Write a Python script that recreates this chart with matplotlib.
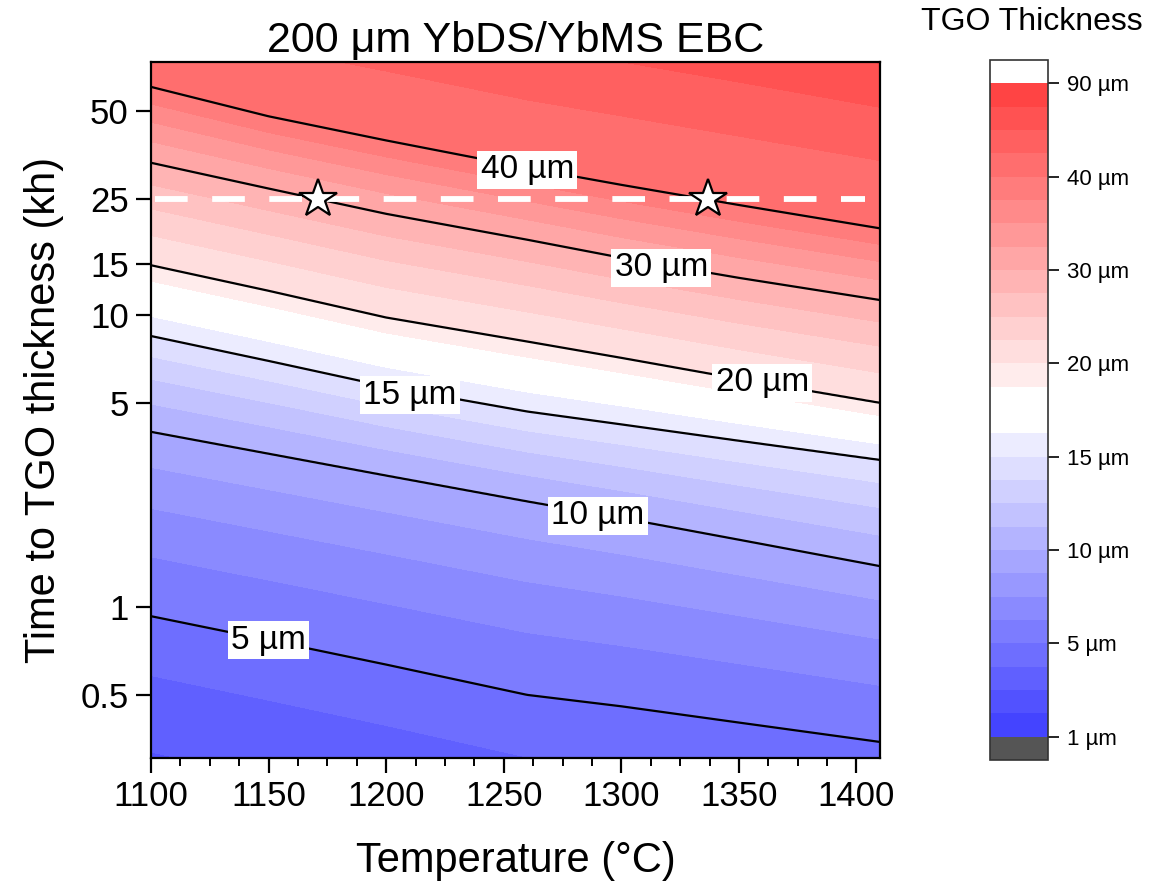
import numpy as np
import matplotlib
matplotlib.use("Agg")
import matplotlib.pyplot as plt
from matplotlib.colors import ListedColormap, BoundaryNorm, to_rgb
from matplotlib.ticker import FixedLocator, FixedFormatter, MultipleLocator, NullLocator

plt.rcParams['font.family'] = ['Liberation Sans', 'DejaVu Sans']

# time (kh) at which the TGO reaches each thickness
temps = [1100, 1150, 1200, 1260, 1300, 1350, 1410]
levels_um = [5, 10, 15, 20, 30, 40]
t_5um = [0.93, 0.77, 0.635, 0.50, 0.457, 0.402, 0.345]
t_10um = [3.98, 3.35, 2.82, 2.30, 2.02, 1.70, 1.38]
t_15um = [8.47, 6.96, 5.69, 4.67, 4.22, 3.71, 3.19]
t_20um = [14.8, 12.1, 9.80, 8.11, 7.13, 6.04, 5.00]
t_30um = [33.2, 27.1, 22.2, 18.1, 15.7, 13.4, 11.25]
t_40um = [60.4, 47.9, 39.6, 31.9, 27.9, 23.8, 19.8]
line_times = [t_5um, t_10um, t_15um, t_20um, t_30um, t_40um]

cbar_ticks = [1, 5, 10, 15, 20, 30, 40, 90]
ytick_vals = [0.5, 1, 5, 10, 15, 25, 50]
ytick_labels = ['0.5', '1', '5', '10', '15', '25', '50']

# 25 kh design life, marked at the two temperatures where the 30/40 um lines cross it
ref_time = 25
star_temps = [1171, 1337]

# ---- thickness field rebuilt from the read contour lines (log-log between lines)
T = np.linspace(1100, 1410, 320)
lt = np.linspace(np.log10(0.28), np.log10(80), 500)
lh_lv = np.log10(levels_um)
Z = np.empty((lt.size, T.size))
for j, temp in enumerate(T):
    lt_lv = np.array([np.interp(temp, temps, np.log10(tk)) for tk in line_times])
    lh = np.interp(lt, lt_lv, lh_lv)
    lo = lt < lt_lv[0]
    hi = lt > lt_lv[-1]
    s0 = (lh_lv[1] - lh_lv[0]) / (lt_lv[1] - lt_lv[0])
    s1 = (lh_lv[-1] - lh_lv[-2]) / (lt_lv[-1] - lt_lv[-2])
    lh[lo] = lh_lv[0] + s0 * (lt[lo] - lt_lv[0])
    lh[hi] = lh_lv[-1] + s1 * (lt[hi] - lt_lv[-1])
    Z[:, j] = 10 ** lh
t_grid = 10 ** lt

# 4 colour bands between each pair of labelled colorbar ticks
bounds = np.concatenate([np.linspace(a, b, 5)[:-1]
                         for a, b in zip(cbar_ticks[:-1], cbar_ticks[1:])] + [[cbar_ticks[-1]]])
nb = len(bounds) - 1              # 28 bands: 13 blue, 2 white, 13 red
blue = np.array(to_rgb('#4444ff'))
red = np.array(to_rgb('#ff4444'))
white = np.ones(3)
band_cols = []
for i in range(nb):
    if i < 13:
        f = i / 12 * 0.9
        band_cols.append(blue + (white - blue) * f)
    elif i < 15:
        band_cols.append(white)
    else:
        f = (nb - 1 - i) / 12 * 0.9
        band_cols.append(red + (white - red) * f)
cmap = ListedColormap(band_cols)
cmap.set_under('#555555')
cmap.set_over('#ffffff')
norm = BoundaryNorm(bounds, cmap.N)

fig = plt.figure(figsize=(11.7, 8.85), dpi=100)
ax = fig.add_axes([151 / 1170, 1 - 758 / 885, 729 / 1170, 696 / 885])
cax = fig.add_axes([990 / 1170, 1 - 760 / 885, 58 / 1170, 700 / 885])

cf = ax.contourf(T, t_grid, Z, levels=bounds, cmap=cmap, norm=norm, extend='both')
ax.contour(T, t_grid, Z, levels=levels_um, colors='black', linewidths=1.6)

ax.set_yscale('log')
ax.set_xlim(1100, 1410)
ax.set_ylim(0.304, 73.5)

ax.axhline(ref_time, xmin=0.005, xmax=0.98, color='white', lw=4.2, dashes=(5.6, 4.2), zorder=4)
ax.plot(star_temps, [ref_time] * len(star_temps), ls='none', marker='*', ms=29,
        mfc='white', mec='black', mew=1.6, zorder=5)

# contour labels (horizontal, white box)
label_pos = [(1150, 0.77), (1290, 2.05), (1210, 5.32), (1360, 5.85), (1317, 14.5), (1260, 31.4)]
for lvl, (x, y) in zip(levels_um, label_pos):
    ax.text(x, y, f'{lvl} µm', fontsize=24, ha='center', va='center', zorder=6,
            bbox=dict(facecolor='white', edgecolor='none', pad=2.5))

ax.xaxis.set_major_locator(FixedLocator([1100, 1150, 1200, 1250, 1300, 1350, 1400]))
ax.xaxis.set_minor_locator(MultipleLocator(12.5))
ax.yaxis.set_major_locator(FixedLocator(ytick_vals))
ax.yaxis.set_major_formatter(FixedFormatter(ytick_labels))
ax.yaxis.set_minor_locator(NullLocator())
ax.tick_params(which='major', direction='out', length=11, width=1.6, labelsize=25, pad=5)
ax.tick_params(which='minor', direction='out', length=6, width=1.4)
for s in ax.spines.values():
    s.set_linewidth(1.6)

ax.set_xlabel('Temperature (°C)', fontsize=30, labelpad=20)
ax.set_ylabel('Time to TGO thickness (kh)', fontsize=30, labelpad=12)
ax.set_title('200 μm YbDS/YbMS EBC', fontsize=31, pad=7)

cb = fig.colorbar(cf, cax=cax, extendrect=True, extendfrac=1 / 28, spacing='uniform')
cb.set_ticks(cbar_ticks, labels=[f'{v} µm' for v in cbar_ticks])
cb.ax.minorticks_off()
cb.ax.tick_params(direction='out', length=8, width=1.2, labelsize=16, pad=6)
cb.outline.set_linewidth(1.2)
cb.outline.set_edgecolor('#333333')
fig.text(1032 / 1170, 1 - 22 / 885, 'TGO Thickness', fontsize=23, ha='center', va='center')

fig.savefig('out.png', dpi=100)
